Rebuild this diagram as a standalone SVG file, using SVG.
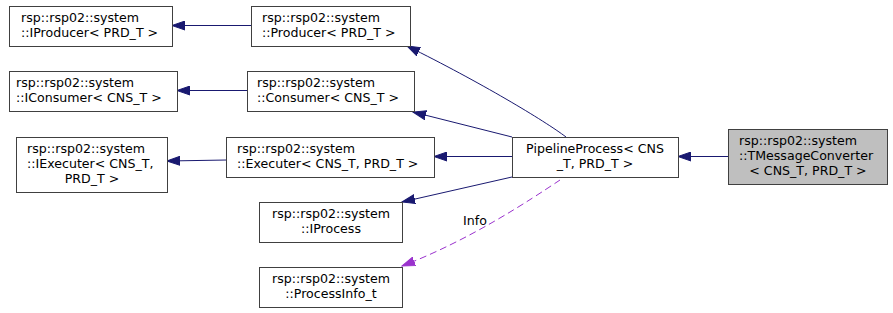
<svg xmlns="http://www.w3.org/2000/svg" width="893" height="313" viewBox="0 0 893 313">
  <style>
    .box { fill: #ffffff; stroke: #404040; stroke-width: 1; }
    .focus { fill: #bfbfbf; stroke: #404040; stroke-width: 1; }
    text { font-family: "DejaVu Sans", Verdana, sans-serif; font-size: 12.6px; fill: #000000; }
    .mid { text-anchor: middle; }
    .inherit { fill: none; stroke: #191970; stroke-width: 1; marker-end: url(#arrowBlue); }
    .usage { fill: none; stroke: #9a32cd; stroke-width: 1; stroke-dasharray: 7,4; marker-end: url(#arrowPurple); }
  </style>
  <defs>
    <marker id="arrowBlue" markerUnits="userSpaceOnUse" markerWidth="14" markerHeight="10" refX="13" refY="5" orient="auto">
      <path d="M0,0.5 L13,5 L0,9.5 Z" fill="#191970" stroke="#191970" stroke-width="1"/>
    </marker>
    <marker id="arrowPurple" markerUnits="userSpaceOnUse" markerWidth="14" markerHeight="10" refX="13" refY="5" orient="auto">
      <path d="M0,0.5 L13,5 L0,9.5 Z" fill="#9a32cd" stroke="#9a32cd" stroke-width="1"/>
    </marker>
  </defs>
  <rect width="893" height="313" fill="#ffffff"/>

  <g id="edges">
    <path class="inherit" d="M251,25.5 L172,25.5"/>
    <path class="inherit" d="M247,90.5 L177,90.5"/>
    <path class="inherit" d="M227,160 L167,161"/>
    <path class="inherit" d="M566,137 C545,121 480,82 407,46"/>
    <path class="inherit" d="M512,137 L413,112"/>
    <path class="inherit" d="M512,156.5 L434,156.5"/>
    <path class="inherit" d="M512,177 L402,202"/>
    <path class="usage" d="M560,180 C530,200 470,240 402,266"/>
    <text x="463" y="225">Info</text>
    <path class="inherit" d="M728,156.5 L678,156.5"/>
  </g>

  <g id="IProducer">
    <rect class="box" x="9.5" y="6.5" width="163" height="40"/>
    <text x="21" y="22">rsp::rsp02::system</text>
    <text x="21" y="37">::IProducer&lt; PRD_T &gt;</text>
  </g>
  <g id="Producer">
    <rect class="box" x="251.5" y="6.5" width="159" height="40"/>
    <text x="262" y="22">rsp::rsp02::system</text>
    <text x="262" y="37">::Producer&lt; PRD_T &gt;</text>
  </g>
  <g id="IConsumer">
    <rect class="box" x="9.5" y="71.5" width="168" height="40"/>
    <text x="16" y="87">rsp::rsp02::system</text>
    <text x="16" y="102">::IConsumer&lt; CNS_T &gt;</text>
  </g>
  <g id="Consumer">
    <rect class="box" x="247.5" y="71.5" width="167" height="40"/>
    <text x="257" y="87">rsp::rsp02::system</text>
    <text x="257" y="102">::Consumer&lt; CNS_T &gt;</text>
  </g>
  <g id="IExecuter">
    <rect class="box" x="16.5" y="137.5" width="151" height="55"/>
    <text x="27" y="153">rsp::rsp02::system</text>
    <text x="27" y="168">::IExecuter&lt; CNS_T,</text>
    <text class="mid" x="92" y="183">PRD_T &gt;</text>
  </g>
  <g id="Executer">
    <rect class="box" x="226.5" y="137.5" width="208" height="40"/>
    <text x="237" y="153">rsp::rsp02::system</text>
    <text x="237" y="168">::Executer&lt; CNS_T, PRD_T &gt;</text>
  </g>
  <g id="IProcess">
    <rect class="box" x="259.5" y="202.5" width="143" height="40"/>
    <text class="mid" x="331" y="218">rsp::rsp02::system</text>
    <text class="mid" x="331" y="233">::IProcess</text>
  </g>
  <g id="ProcessInfo_t">
    <rect class="box" x="259.5" y="267.5" width="143" height="40"/>
    <text class="mid" x="331" y="283">rsp::rsp02::system</text>
    <text class="mid" x="331" y="298">::ProcessInfo_t</text>
  </g>
  <g id="PipelineProcess">
    <rect class="box" x="512.5" y="137.5" width="166" height="40"/>
    <text class="mid" x="595" y="153">PipelineProcess&lt; CNS</text>
    <text class="mid" x="595" y="168">_T, PRD_T &gt;</text>
  </g>
  <g id="TMessageConverter">
    <rect class="focus" x="728.5" y="129.5" width="159" height="55"/>
    <text x="739" y="145">rsp::rsp02::system</text>
    <text x="739" y="160">::TMessageConverter</text>
    <text class="mid" x="808" y="175">&lt; CNS_T, PRD_T &gt;</text>
  </g>
</svg>
